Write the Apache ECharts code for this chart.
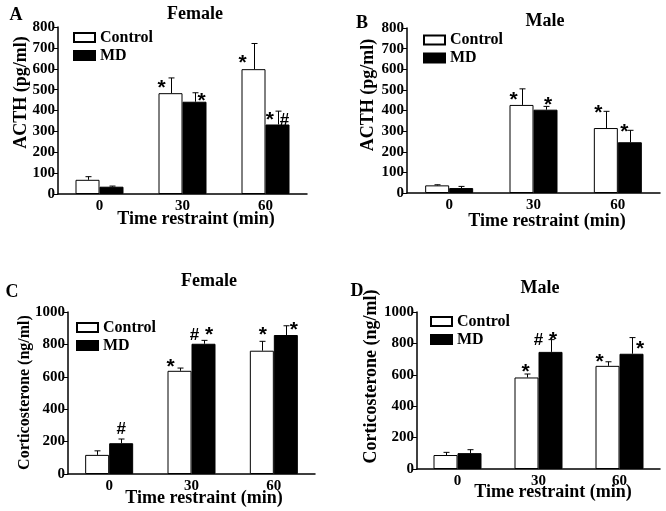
<!DOCTYPE html>
<html>
<head>
<meta charset="utf-8">
<script src="https://cdn.jsdelivr.net/npm/echarts@6/dist/echarts.min.js"></script>
<style>
html, body { margin: 0; padding: 0; background: #fff; }
#main { width: 666px; height: 511px; }
</style>
</head>
<body>
<div id="main"></div>
<script>
// restraint time categories
var categories = ['0', '30', '60'];
var groupNames = ['Control', 'MD'];

// A: ACTH, female
var acthFemaleCtrl = [68, 483, 598];
var acthFemaleCtrlSem = [15, 73, 123];
var acthFemaleMd = [35, 442, 333];
var acthFemaleMdSem = [3, 43, 64];
var acthFemaleCtrlMarks = ['', '*', '*'];
var acthFemaleMdMarks = ['', '*', '* #'];

// B: ACTH, male
var acthMaleCtrl = [37, 427, 315];
var acthMaleCtrlSem = [3, 78, 81];
var acthMaleMd = [24, 404, 246];
var acthMaleMdSem = [8, 16, 58];
var acthMaleCtrlMarks = ['', '*', '*'];
var acthMaleMdMarks = ['', '*', '*'];

// C: corticosterone, female
var corFemaleCtrl = [118, 637, 761];
var corFemaleCtrlSem = [25, 17, 58];
var corFemaleMd = [190, 804, 858];
var corFemaleMdSem = [26, 21, 57];
var corFemaleCtrlMarks = ['', '*', '*'];
var corFemaleMdMarks = ['#', '# *', '*'];

// D: corticosterone, male
var corMaleCtrl = [89, 583, 657];
var corMaleCtrlSem = [17, 22, 26];
var corMaleMd = [101, 746, 734];
var corMaleMdSem = [22, 78, 103];
var corMaleCtrlMarks = ['', '*', '*'];
var corMaleMdMarks = ['', '# *', '*'];

var SERIF = "'Liberation Serif', 'Times New Roman', serif";
var SANS = "'Liberation Sans', Arial, sans-serif";

var panels = [
	{
		letter: 'A', title: 'Female', yName: 'ACTH (pg/ml)', max: 800, interval: 100,
		ctrl: acthFemaleCtrl, ctrlSem: acthFemaleCtrlSem, md: acthFemaleMd, mdSem: acthFemaleMdSem,
		ctrlMarks: acthFemaleCtrlMarks, mdMarks: acthFemaleMdMarks,
		grid: {left: 58, top: 27, width: 249, height: 167},
		letterPos: [16, 15], titlePos: [195, 14], yNamePos: [21.5, 92.5], yNameSize: 18, xNamePos: [196, 219],
		legendPos: [73, 29.5],
		ctrlOff: [null, [-9, 10], [-11, 20]], mdOff: [null, [7, 8.5], [0, 9]]
	},
	{
		letter: 'B', title: 'Male', yName: 'ACTH (pg/ml)', max: 800, interval: 100,
		ctrl: acthMaleCtrl, ctrlSem: acthMaleCtrlSem, md: acthMaleMd, mdSem: acthMaleMdSem,
		ctrlMarks: acthMaleCtrlMarks, mdMarks: acthMaleMdMarks,
		grid: {left: 407, top: 28, width: 253, height: 165},
		letterPos: [362, 23], titlePos: [545, 21], yNamePos: [368.5, 95], yNameSize: 18, xNamePos: [547, 221],
		legendPos: [423, 32],
		ctrlOff: [null, [-8, 11.5], [-7.5, 2]], mdOff: [null, [2.5, -1], [-5.5, 1.5]]
	},
	{
		letter: 'C', title: 'Female', yName: 'Corticosterone (ng/ml)', max: 1000, interval: 200,
		ctrl: corFemaleCtrl, ctrlSem: corFemaleCtrlSem, md: corFemaleMd, mdSem: corFemaleMdSem,
		ctrlMarks: corFemaleCtrlMarks, mdMarks: corFemaleMdMarks,
		grid: {left: 68, top: 312, width: 247, height: 162},
		letterPos: [12, 292], titlePos: [209, 281], yNamePos: [25, 392.5], yNameSize: 16, xNamePos: [204, 498],
		legendPos: [76, 319.5],
		ctrlOff: [null, [-9, -0.5], [1, -6]], mdOff: [[0, -10], [-2, -5], [8, 4]]
	},
	{
		letter: 'D', title: 'Male', yName: 'Corticosterone (ng/ml)', max: 1000, interval: 200,
		ctrl: corMaleCtrl, ctrlSem: corMaleCtrlSem, md: corMaleMd, mdSem: corMaleMdSem,
		ctrlMarks: corMaleCtrlMarks, mdMarks: corMaleMdMarks,
		grid: {left: 417, top: 312, width: 243, height: 157},
		letterPos: [357, 291], titlePos: [540, 288], yNamePos: [371.5, 376.5], yNameSize: 18, xNamePos: [553, 492],
		legendPos: [430, 313.5],
		ctrlOff: [null, [-1, -1.5], [-8, 0.5]], mdOff: [null, [-5, 1], [8.5, 11.5]]
	}
];

var BAR_W = 24;

// '*' drawn larger than '#', as in the figure
function richMark(s) {
	var out = '';
	for (var i = 0; i < s.length; i++) {
		var c = s.charAt(i);
		out += (c === '#' ? '{h|#}' : '{s|' + c + '}');
	}
	return out;
}

function errorSeries(idx, vals, sem, shift) {
	var data = [];
	for (var i = 0; i < vals.length; i++) {
		data.push([i, vals[i], vals[i] + sem[i]]);
	}
	return {
		type: 'custom',
		xAxisIndex: idx,
		yAxisIndex: idx,
		silent: true,
		z: 5,
		data: data,
		renderItem: function (params, api) {
			var base = api.coord([api.value(0), api.value(1)]);
			var top = api.coord([api.value(0), api.value(2)]);
			var x = Math.round(base[0] + shift) + 0.5;
			return {
				type: 'group',
				children: [
					{type: 'line', shape: {x1: x, y1: base[1], x2: x, y2: top[1]}, style: {stroke: '#000', lineWidth: 1}},
					{type: 'line', shape: {x1: x - 3, y1: top[1], x2: x + 3, y2: top[1]}, style: {stroke: '#000', lineWidth: 1}}
				]
			};
		}
	};
}

function markSeries(idx, vals, sem, marks, offs, shift) {
	var data = [];
	for (var i = 0; i < vals.length; i++) {
		data.push([i, vals[i] + sem[i]]);
	}
	return {
		type: 'custom',
		xAxisIndex: idx,
		yAxisIndex: idx,
		silent: true,
		z: 6,
		data: data,
		renderItem: function (params, api) {
			var i = params.dataIndex;
			if (!marks[i]) return null;
			var p = api.coord([api.value(0), api.value(1)]);
			var off = offs[i] || [0, 0];
			return {
				type: 'text',
				x: p[0] + shift + off[0],
				y: p[1] + off[1],
				style: {
					text: richMark(marks[i]),
					fill: '#000',
					fontFamily: SANS,
					fontWeight: 'bold',
					fontSize: 21,
					align: 'center',
					verticalAlign: 'middle',
					rich: {
						s: {fontFamily: SANS, fontWeight: 'bold', fontSize: 21, fill: '#000'},
						h: {fontFamily: SANS, fontWeight: 'bold', fontSize: 17, fill: '#000'}
					}
				}
			};
		}
	};
}

var option = {
	animation: false,
	backgroundColor: '#fff',
	grid: [],
	xAxis: [],
	yAxis: [],
	legend: [],
	series: [],
	graphic: []
};

echarts.util.each(panels, function (p, idx) {
	option.grid.push(p.grid);
	option.xAxis.push({
		type: 'category',
		gridIndex: idx,
		data: categories,
		axisTick: {show: false},
		axisLine: {lineStyle: {color: '#000', width: 1.5}},
		axisLabel: {color: '#000', fontFamily: SERIF, fontWeight: 'bold', fontSize: 15, margin: 5}
	});
	option.yAxis.push({
		type: 'value',
		gridIndex: idx,
		min: 0,
		max: p.max,
		interval: p.interval,
		splitLine: {show: false},
		axisLine: {show: true, lineStyle: {color: '#000', width: 1.5}},
		axisTick: {show: true, length: 4, lineStyle: {color: '#000'}},
		axisLabel: {
			color: '#000', fontFamily: SERIF, fontWeight: 'bold', fontSize: 15, margin: 3,
			formatter: function (v) { return String(v); }
		}
	});
	option.legend.push({
		data: groupNames,
		orient: 'vertical',
		left: p.legendPos[0],
		top: p.legendPos[1],
		padding: 0,
		itemGap: 2,
		itemWidth: 21,
		itemHeight: 9,
		icon: 'rect',
		selectedMode: false,
		textStyle: {color: '#000', fontFamily: SERIF, fontWeight: 'bold', fontSize: 16, lineHeight: 16}
	});
	option.series.push({
		name: groupNames[0],
		type: 'bar',
		xAxisIndex: idx,
		yAxisIndex: idx,
		barWidth: BAR_W,
		barGap: '0%',
		itemStyle: {color: '#fff', borderColor: '#000', borderWidth: 1},
		data: p.ctrl
	});
	option.series.push({
		name: groupNames[1],
		type: 'bar',
		xAxisIndex: idx,
		yAxisIndex: idx,
		barWidth: BAR_W,
		barGap: '0%',
		itemStyle: {color: '#000', borderColor: '#000', borderWidth: 1},
		data: p.md
	});
	option.series.push(errorSeries(idx, p.ctrl, p.ctrlSem, -BAR_W / 2));
	option.series.push(errorSeries(idx, p.md, p.mdSem, BAR_W / 2));
	option.series.push(markSeries(idx, p.ctrl, p.ctrlSem, p.ctrlMarks, p.ctrlOff, -BAR_W / 2));
	option.series.push(markSeries(idx, p.md, p.mdSem, p.mdMarks, p.mdOff, BAR_W / 2));

	var txt = function (text, pos, size, rot) {
		return {
			type: 'text',
			x: pos[0],
			y: pos[1],
			rotation: rot || 0,
			style: {
				text: text,
				fill: '#000',
				fontFamily: SERIF,
				fontWeight: 'bold',
				fontSize: size,
				align: 'center',
				verticalAlign: 'middle'
			}
		};
	};
	option.graphic.push(txt(p.letter, p.letterPos, 18));
	option.graphic.push(txt(p.title, p.titlePos, 18));
	option.graphic.push(txt(p.yName, p.yNamePos, p.yNameSize, Math.PI / 2));
	option.graphic.push(txt('Time restraint (min)', p.xNamePos, 18));
});

var myChart = echarts.init(document.getElementById('main'));
myChart.setOption(option);
</script>
</body>
</html>
